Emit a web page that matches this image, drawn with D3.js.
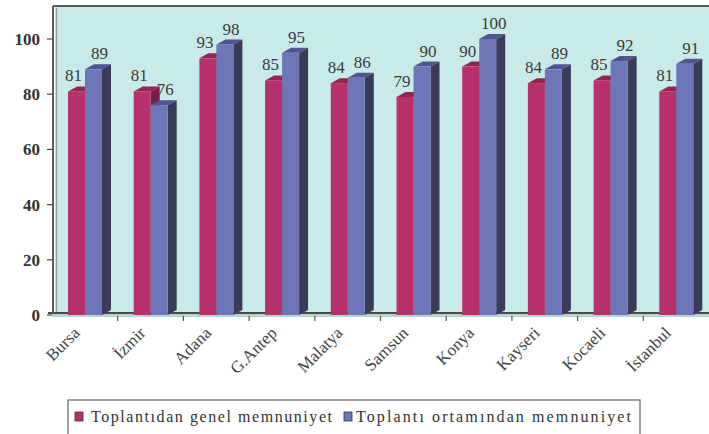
<!DOCTYPE html>
<html>
<head>
<meta charset="utf-8">
<script src="https://cdn.jsdelivr.net/npm/d3@7"></script>
<style>
  html, body { margin: 0; padding: 0; background: #fff; }
  svg { display: block; }
  text { font-family: "Liberation Serif", "Times New Roman", serif; }
</style>
</head>
<body>
<svg id="chart" width="709" height="434"></svg>
<script>
// Meeting satisfaction by city, two series
const categories = ["Bursa", "İzmir", "Adana", "G.Antep", "Malatya", "Samsun", "Konya", "Kayseri", "Kocaeli", "İstanbul"];
const seriesNames = ["Toplantıdan genel memnuniyet", "Toplantı ortamından memnuniyet"];
const generalValues = [81, 81, 93, 85, 84, 79, 90, 84, 85, 81];
const venueValues   = [89, 76, 98, 95, 86, 90, 100, 89, 92, 91];
const yTicks = [0, 20, 40, 60, 80, 100];

const svg = d3.select("#chart");
const W = 709, H = 434;

const plot = { left: 52, right: 709, top: 6, floor: 315 };
const depthX = 9, depthY = 5;

const x = d3.scaleBand().domain(categories).range([plot.left, plot.right]).padding(0);
const inner = d3.scaleBand().domain(seriesNames).range([16, 50]).padding(0);
const y = d3.scaleLinear().domain([0, 100]).range([plot.floor, 39]);

const colors = [
  { front: "#b72f6b", side: "#7a1d44", top: "#96244f" },
  { front: "#6d76b6", side: "#393b57", top: "#50558f" }
];

// back wall
svg.append("rect")
  .attr("x", plot.left + 3).attr("y", plot.top)
  .attr("width", plot.right - plot.left).attr("height", plot.floor - plot.top)
  .attr("fill", "#c8eae8");

// frame: top edge and doubled left wall
svg.append("line").attr("x1", plot.left + 1).attr("x2", W).attr("y1", plot.top).attr("y2", plot.top)
  .attr("stroke", "#5a5a5a").attr("stroke-width", 2);
svg.append("line").attr("x1", plot.left + 1).attr("x2", plot.left + 1).attr("y1", plot.top).attr("y2", plot.floor)
  .attr("stroke", "#5a5a5a").attr("stroke-width", 2);
svg.append("line").attr("x1", plot.left + 4.5).attr("x2", plot.left + 4.5).attr("y1", plot.top + 2).attr("y2", plot.floor - 2)
  .attr("stroke", "#8a9a98").attr("stroke-width", 1.2);

// floor
svg.append("rect").attr("x", plot.left - 4).attr("y", plot.floor - 3)
  .attr("width", W - plot.left + 4).attr("height", 2).attr("fill", "#4a4a4a");
svg.append("rect").attr("x", plot.left).attr("y", plot.floor - 1)
  .attr("width", W - plot.left).attr("height", 3).attr("fill", "#b9d3cf");

// y axis ticks and labels
const yAxis = svg.append("g");
yAxis.selectAll("line").data(yTicks).join("line")
  .attr("x1", plot.left - 5).attr("x2", plot.left)
  .attr("y1", d => y(d)).attr("y2", d => y(d))
  .attr("stroke", "#444").attr("stroke-width", 1.2);
yAxis.selectAll("text").data(yTicks).join("text")
  .attr("x", 40).attr("y", d => y(d) + 6)
  .attr("text-anchor", "end")
  .attr("font-weight", "bold").attr("font-size", 17)
  .attr("fill", "#333")
  .text(d => d);

// x axis ticks at category boundaries
const bounds = categories.slice(1).map(c => x(c));
svg.append("g").selectAll("line").data(bounds).join("line")
  .attr("x1", d => d).attr("x2", d => d)
  .attr("y1", plot.floor + 1).attr("y2", plot.floor + 6)
  .attr("stroke", "#555").attr("stroke-width", 1.2);

// x axis labels, slanted
svg.append("g").selectAll("text").data(categories).join("text")
  .attr("transform", d => `translate(${x(d) + x.bandwidth() / 2 - 4},${plot.floor + 19}) rotate(-45)`)
  .attr("text-anchor", "end")
  .attr("font-size", 17)
  .attr("fill", "#444")
  .text(d => d);

// 3D columns
const rows = categories.map((c, i) => ({ cat: c, vals: [generalValues[i], venueValues[i]] }));

function drawBar(g, x0, w, v, col) {
  const yt = y(v), yb = plot.floor;
  // side face
  g.append("polygon")
    .attr("points", [[x0 + w, yt], [x0 + w + depthX, yt - depthY], [x0 + w + depthX, yb - depthY], [x0 + w, yb]].join(" "))
    .attr("fill", col.side);
  // top face
  g.append("polygon")
    .attr("points", [[x0, yt], [x0 + depthX, yt - depthY], [x0 + w + depthX, yt - depthY], [x0 + w, yt]].join(" "))
    .attr("fill", col.top);
  // front face
  g.append("rect").attr("x", x0).attr("y", yt).attr("width", w).attr("height", yb - yt)
    .attr("fill", col.front);
}

const barsG = svg.append("g");
rows.forEach(r => {
  const g = barsG.append("g");
  seriesNames.forEach((s, k) => {
    drawBar(g, x(r.cat) + inner(s), inner.bandwidth(), r.vals[k], colors[k]);
  });
});

// value labels
const labelShift = [-3, 6];
const labelsG = svg.append("g")
  .attr("font-size", 17).attr("fill", "#3a3a3a").attr("text-anchor", "middle");
rows.forEach(r => {
  seriesNames.forEach((s, k) => {
    labelsG.append("text")
      .attr("x", x(r.cat) + inner(s) + inner.bandwidth() / 2 + labelShift[k])
      .attr("y", y(r.vals[k]) - 10)
      .text(r.vals[k]);
  });
});

// legend
const legend = svg.append("g");
legend.append("rect").attr("x", 68).attr("y", 400).attr("width", 572).attr("height", 50)
  .attr("fill", "#fff").attr("stroke", "#666").attr("stroke-width", 1.2);
const legendItems = [
  { name: seriesNames[0], color: colors[0].front, sx: 75, tx: 91, len: 241 },
  { name: seriesNames[1], color: colors[1].front, sx: 344, tx: 356, len: 275 }
];
legendItems.forEach(it => {
  legend.append("rect").attr("x", it.sx).attr("y", 412).attr("width", 8).attr("height", 9)
    .attr("fill", it.color).attr("stroke", "#333").attr("stroke-width", 0.8);
  legend.append("text").attr("x", it.tx).attr("y", 422)
    .attr("font-size", 16).attr("fill", "#333")
    .attr("textLength", it.len).attr("lengthAdjust", "spacing")
    .text(it.name);
});
</script>
</body>
</html>
